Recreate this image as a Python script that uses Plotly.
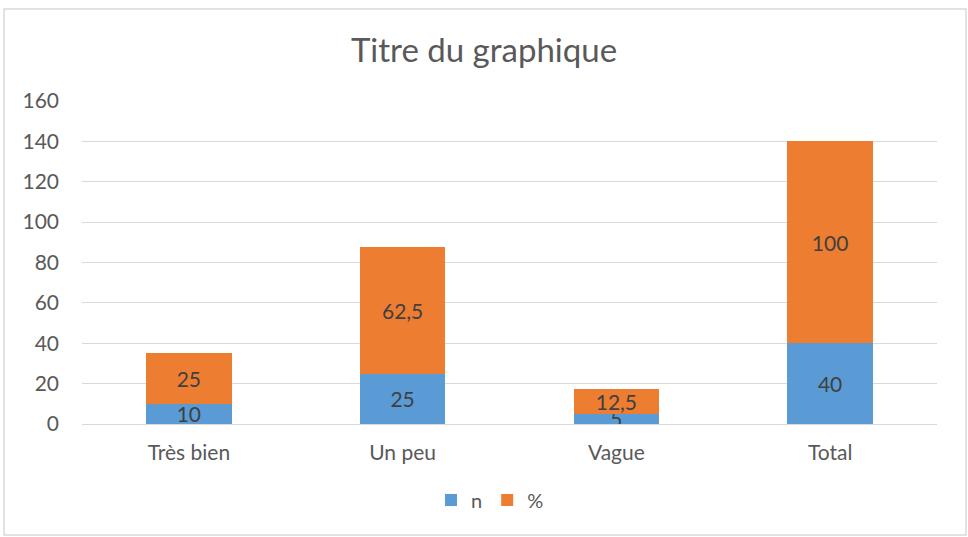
import plotly.graph_objects as go

categories = ["Très bien", "Un peu", "Vague", "Total"]
n_values = [10, 25, 5, 40]
pct_values = [25, 62.5, 12.5, 100]
y_ticks = [0, 20, 40, 60, 80, 100, 120, 140, 160]

def fr(v):
    s = ("%g" % v)
    return s.replace(".", ",")

FONT = "Lato, Open Sans, sans-serif"
W, H = 968, 537
L, R, T, B = 82, 31, 101, 113
pw, ph = W - L - R, H - T - B

def px_x(x):
    return (x - L) / pw

def px_y(y):
    return (H - B - y) / ph

fig = go.Figure()
fig.add_trace(go.Bar(
    x=categories, y=n_values, name="n",
    marker=dict(color="#5B9BD5", line=dict(width=0)),
    text=[fr(v) for v in n_values], textposition="inside", textangle=0,
    insidetextanchor="middle", constraintext="none",
    textfont=dict(family=FONT, size=21, color="#404040"),
    hoverinfo="skip",
))
fig.add_trace(go.Bar(
    x=categories, y=pct_values, name="%",
    marker=dict(color="#ED7D31", line=dict(width=0)),
    text=[fr(v) for v in pct_values], textposition="inside", textangle=0,
    insidetextanchor="middle", constraintext="none",
    textfont=dict(family=FONT, size=21, color="#404040"),
    hoverinfo="skip",
))

fig.update_layout(
    width=W, height=H,
    barmode="stack", bargap=0.6,
    margin=dict(l=L, r=R, t=T, b=B),
    paper_bgcolor="white", plot_bgcolor="white",
    font=dict(family=FONT, color="#595959"),
    title=dict(text="Titre du graphique", x=0.5, xanchor="center",
               y=1 - 50 / H, yanchor="middle", yref="container",
               font=dict(family=FONT, size=33, color="#595959")),
    showlegend=True,
    legend=dict(orientation="h", x=px_x(490), xanchor="center",
                y=px_y(500), yanchor="middle",
                font=dict(family=FONT, size=20, color="#595959"),
                itemwidth=30, traceorder="normal"),
    uniformtext=dict(mode=False),
)
fig.update_yaxes(range=[0, 160], tickvals=y_ticks, showgrid=True,
                 gridcolor="#D9D9D9", gridwidth=1, zeroline=True,
                 zerolinecolor="#D9D9D9", zerolinewidth=1,
                 showline=False, ticks="", ticklabelstandoff=22,
                 tickfont=dict(family=FONT, size=21, color="#595959"))
fig.update_xaxes(showgrid=False, showline=True, linecolor="#D9D9D9",
                 ticks="", ticklabelstandoff=10,
                 tickfont=dict(family=FONT, size=21, color="#595959"))

fig.add_shape(type="rect", xref="paper", yref="paper",
              x0=px_x(4), x1=px_x(966), y0=px_y(535), y1=px_y(9),
              line=dict(color="#D9D9D9", width=1.5), fillcolor="rgba(0,0,0,0)",
              layer="below")

fig.write_html("out.html", config={"displayModeBar": False},
               post_script="document.body.style.margin='0';")
